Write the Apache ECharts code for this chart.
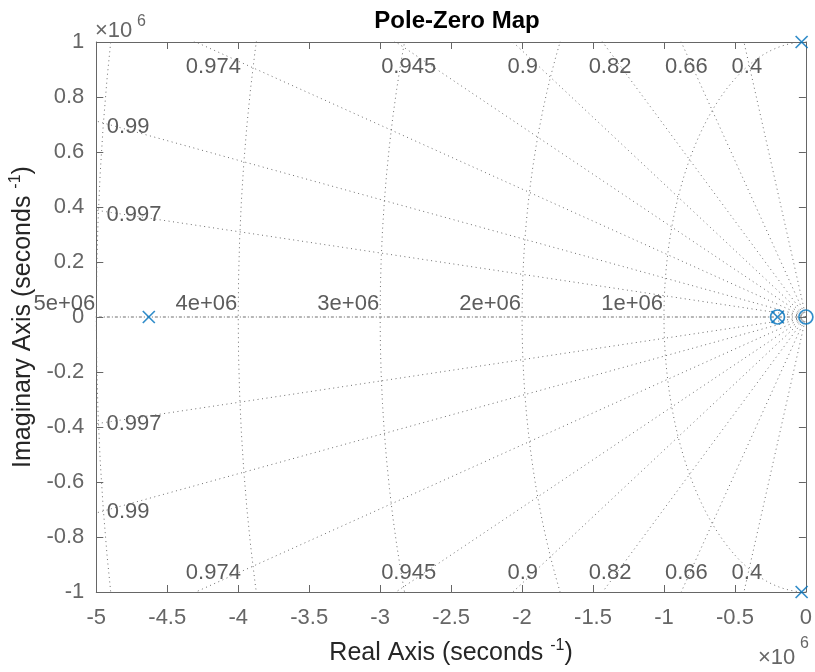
<!DOCTYPE html>
<html>
<head>
<meta charset="utf-8">
<script src="https://cdn.jsdelivr.net/npm/echarts@6/dist/echarts.min.js"></script>
<style>
html,body{margin:0;padding:0;background:#fff;}
#chart{width:815px;height:672px;}
</style>
</head>
<body>
<div id="chart"></div>
<script>
// ---- data ----
const poles = [[-4.63e6, 0], [-0.2e6, 0], [-0.03e6, 1.0e6], [-0.03e6, -1.0e6]];
const zeros = [[-0.2e6, 0], [0, 0]];
const dampingValues = [0.4, 0.66, 0.82, 0.9, 0.945, 0.974, 0.99, 0.997];
const dampingLabels = ['0.4', '0.66', '0.82', '0.9', '0.945', '0.974', '0.99', '0.997'];
const frequencyValues = [1e6, 2e6, 3e6, 4e6, 5e6];
const frequencyLabels = ['1e+06', '2e+06', '3e+06', '4e+06', '5e+06'];
const xTickRange = [-5e6, 0, 0.5e6];
const yTickRange = [-1e6, 1e6, 0.2e6];

// ---- layout (label anchors, data units) ----
const dampingLabelX = [-0.416e6, -0.842e6, -1.380e6, -1.995e6, -2.799e6, -4.175e6, -4.776e6, -4.735e6];
const dampingLabelYTop = [0.910e6, 0.910e6, 0.910e6, 0.910e6, 0.910e6, 0.910e6, 0.692e6, 0.371e6];
const dampingLabelYBot = [-0.929e6, -0.929e6, -0.929e6, -0.929e6, -0.929e6, -0.929e6, -0.710e6, -0.390e6];

const FONT = 'Liberation Sans, Arial, Helvetica, sans-serif';
const gridStyle = { color: '#6e6e6e', width: 1, type: [1, 3.5] };
const series = [];
const FAR = 30e6;

// damping lines (rays from origin)
dampingValues.forEach(z => {
  const s = Math.sqrt(1 - z * z);
  [1, -1].forEach(sign => {
    series.push({
      type: 'line', silent: true, symbol: 'none', animation: false,
      lineStyle: gridStyle, clip: true,
      data: [[0, 0], [-z * FAR, sign * s * FAR]]
    });
  });
});
// real axis (zeta = 1)
series.push({
  type: 'line', silent: true, symbol: 'none', animation: false, clip: true,
  lineStyle: { color: '#6e6e6e', width: 1, type: [3, 2, 1, 2] },
  data: [[0, 0], [-FAR, 0]]
});
// natural frequency arcs
frequencyValues.forEach(w => {
  const pts = [];
  for (let i = 0; i <= 90; i++) {
    const th = Math.PI / 2 + Math.PI * i / 90;
    pts.push([w * Math.cos(th), w * Math.sin(th)]);
  }
  series.push({
    type: 'line', silent: true, symbol: 'none', animation: false, clip: true,
    lineStyle: gridStyle, data: pts
  });
});
// frequency labels
series.push({
  type: 'scatter', silent: true, animation: false, symbolSize: 0, clip: false,
  label: {
    show: true, position: 'left', distance: 1, offset: [0, -13],
    color: '#333', fontFamily: FONT, fontSize: 22,
    formatter: p => frequencyLabels[p.dataIndex]
  },
  data: frequencyValues.map(w => [-w, 0])
});
// damping labels
series.push({
  type: 'scatter', silent: true, animation: false, symbolSize: 0, clip: false,
  label: {
    show: true, position: 'inside',
    color: '#333', fontFamily: FONT, fontSize: 22,
    formatter: p => dampingLabels[p.dataIndex % dampingLabels.length]
  },
  data: dampingLabelX.map((x, i) => [x, dampingLabelYTop[i]])
    .concat(dampingLabelX.map((x, i) => [x, dampingLabelYBot[i]]))
});
// poles
series.push({
  type: 'scatter', animation: false, clip: false,
  symbol: 'path://M0,0L10,10M10,0L0,10', symbolSize: 12,
  itemStyle: { color: 'rgba(0,0,0,0)', borderColor: '#0072BD', borderWidth: 1.7 },
  data: poles, z: 5
});
// zeros
series.push({
  type: 'scatter', animation: false, clip: false,
  symbol: 'circle', symbolSize: 14,
  itemStyle: { color: 'rgba(0,0,0,0)', borderColor: '#0072BD', borderWidth: 1.7 },
  data: zeros, z: 5
});

const axisCommon = {
  axisLine: { show: true, onZero: false, lineStyle: { color: '#666', width: 1 } },
  axisTick: { show: true, inside: true, length: 7, lineStyle: { color: '#666' } },
  splitLine: { show: false }
};
const nameRich = {
  a: { fontFamily: FONT, fontSize: 25, color: '#262626' },
  s: { fontFamily: FONT, fontSize: 16, color: '#262626', verticalAlign: 'top', padding: [0, 0, 14, 0] }
};

const option = {
  animation: false,
  backgroundColor: '#fff',
  title: {
    text: 'Pole-Zero Map', left: 452, top: 4, textAlign: 'center',
    textStyle: { fontFamily: FONT, fontSize: 24, fontWeight: 'bold', color: '#000' }
  },
  grid: { left: 95, right: 5, top: 42, bottom: 80 },
  xAxis: [
    Object.assign({
      type: 'value', min: xTickRange[0], max: xTickRange[1], interval: xTickRange[2],
      position: 'bottom',
      axisLabel: { color: '#666', fontFamily: FONT, fontSize: 22, margin: 15,
        formatter: v => String(Math.round(v / 1e5) / 10) },
      name: '{a|Real Axis (seconds }{s|-1}{a|)}', nameLocation: 'middle', nameGap: 46,
      nameTextStyle: { rich: nameRich }
    }, axisCommon),
    Object.assign({
      type: 'value', min: xTickRange[0], max: xTickRange[1], interval: xTickRange[2],
      position: 'top', axisLabel: { show: false }
    }, axisCommon)
  ],
  yAxis: [
    Object.assign({
      type: 'value', min: yTickRange[0], max: yTickRange[1], interval: yTickRange[2],
      position: 'left',
      axisLabel: { color: '#666', fontFamily: FONT, fontSize: 22, margin: 12,
        formatter: v => String(Math.round(v / 1e5) / 10) },
      name: '{a|Imaginary Axis (seconds }{s|-1}{a|)}', nameLocation: 'middle', nameGap: 54,
      nameTextStyle: { rich: nameRich }
    }, axisCommon),
    Object.assign({
      type: 'value', min: yTickRange[0], max: yTickRange[1], interval: yTickRange[2],
      position: 'right', axisLabel: { show: false }
    }, axisCommon)
  ],
  graphic: [
    { type: 'text', left: 95, top: 20, style: { text: '×10', fontFamily: FONT, fontSize: 22, fill: '#666' } },
    { type: 'text', left: 137, top: 14, style: { text: '6', fontFamily: FONT, fontSize: 16, fill: '#666' } },
    { type: 'text', left: 758, top: 647, style: { text: '×10', fontFamily: FONT, fontSize: 22, fill: '#666' } },
    { type: 'text', left: 800, top: 636, style: { text: '6', fontFamily: FONT, fontSize: 16, fill: '#666' } }
  ],
  series: series
};

const chart = echarts.init(document.getElementById('chart'), null, { renderer: 'canvas' });
chart.setOption(option);
</script>
</body>
</html>
